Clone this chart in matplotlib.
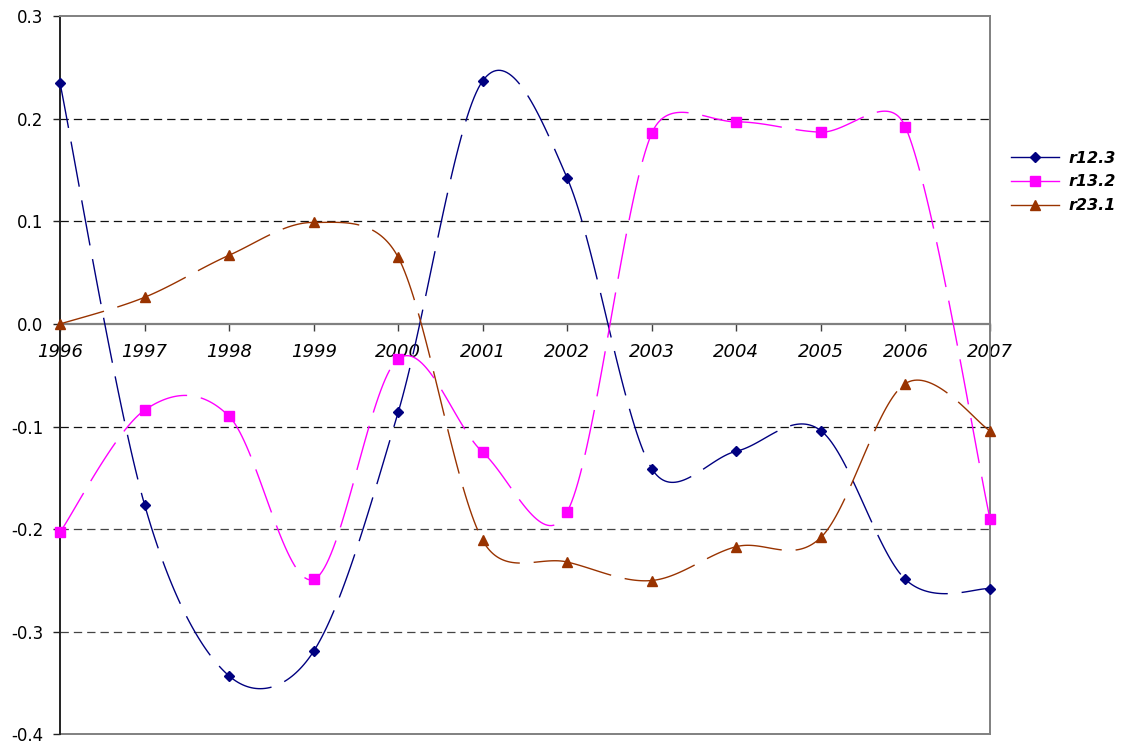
import numpy as np
import matplotlib
matplotlib.use("Agg")
import matplotlib.pyplot as plt
from matplotlib.lines import Line2D

plt.rcParams['font.family'] = ['DejaVu Sans']
plt.rcParams['lines.scale_dashes'] = False

years = [1996, 1997, 1998, 1999, 2000, 2001, 2002, 2003, 2004, 2005, 2006, 2007]
r12_3 = [0.235, -0.176, -0.343, -0.319, -0.086, 0.237, 0.142, -0.141, -0.124, -0.104, -0.249, -0.258]
r13_2 = [-0.203, -0.084, -0.090, -0.249, -0.034, -0.125, -0.183, 0.186, 0.197, 0.187, 0.192, -0.190]
r23_1 = [0.000, 0.026, 0.067, 0.099, 0.065, -0.211, -0.232, -0.250, -0.217, -0.208, -0.058, -0.104]

series_names = ['r12.3', 'r13.2', 'r23.1']
series_values = [r12_3, r13_2, r23_1]
series_colors = ['#000080', '#FF00FF', '#993300']
series_markers = ['D', 's', '^']
series_msizes = [5.0, 6.5, 7.5]

y_ticks = [0.3, 0.2, 0.1, 0.0, -0.1, -0.2, -0.3, -0.4]
grid_levels = [0.2, 0.1, -0.1, -0.2, -0.3]

FIG_W, FIG_H = 1124, 745
AX_L, AX_R, AX_T, AX_B = 60.0, 990.0, 16.2, 734.4


def smooth_segments(x, y, xlim, ylim, n=40):
    """Excel-like smoothed curve: one cubic Bezier per segment, Catmull-Rom arms (1/6),
    computed in pixel units and capped at half the adjacent segment length."""
    sx = (AX_R - AX_L) / (xlim[1] - xlim[0])
    sy = (AX_B - AX_T) / (ylim[1] - ylim[0])
    pts = np.column_stack([np.asarray(x, float) * sx, np.asarray(y, float) * sy])
    k = len(pts)
    ext = np.vstack([pts[:1], pts, pts[-1:]])
    segs = []
    t = np.linspace(0, 1, n)[:, None]
    for i in range(k - 1):
        P0 = pts[i]
        P3 = pts[i + 1]
        L = np.linalg.norm(P3 - P0)
        a0 = (ext[i + 2] - ext[i]) / 6.0
        a1 = (ext[i + 3] - ext[i + 1]) / 6.0
        n0 = np.linalg.norm(a0)
        n1 = np.linalg.norm(a1)
        if n0 > 0.5 * L:
            a0 = a0 * (0.5 * L / n0)
        if n1 > 0.5 * L:
            a1 = a1 * (0.5 * L / n1)
        P1 = P0 + a0
        P2 = P3 - a1
        B = ((1 - t) ** 3) * P0 + 3 * ((1 - t) ** 2) * t * P1 + 3 * (1 - t) * t ** 2 * P2 + t ** 3 * P3
        segs.append((B[:, 0] / sx, B[:, 1] / sy))
    return segs


fig = plt.figure(figsize=(FIG_W / 100, FIG_H / 100), dpi=100)
ax = fig.add_axes([AX_L / FIG_W, 1 - AX_B / FIG_H, (AX_R - AX_L) / FIG_W, (AX_B - AX_T) / FIG_H])

xlim = (years[0], years[-1])
ylim = (-0.4, 0.3)
ax.set_xlim(*xlim)
ax.set_ylim(*ylim)

# gridlines
for g in grid_levels:
    ax.axhline(g, color='#111111' if g > -0.15 else '#444444', lw=0.9, ls=(0, (6, 3.6)), zorder=1)

handles = []
for name, vals, col, mk, ms in zip(series_names, series_values, series_colors, series_markers, series_msizes):
    for sx_, sy_ in smooth_segments(years, vals, xlim, ylim):
        ax.plot(sx_, sy_, color=col, lw=1.0, ls=(0, (33, 10)), zorder=3,
                solid_capstyle='butt', dash_capstyle='butt')
    ax.plot(years, vals, ls='none', marker=mk, ms=ms, color=col, mec=col, zorder=4, clip_on=False)
    handles.append(Line2D([], [], color=col, lw=1.0, marker=mk, ms=ms, mec=col))

# spines
ax.spines['bottom'].set_position(('data', 0))
ax.spines['bottom'].set_color('#808080')
ax.spines['bottom'].set_linewidth(1.6)
ax.spines['bottom'].set_zorder(2)
for s in ['top', 'right']:
    ax.spines[s].set_color('#808080')
    ax.spines[s].set_linewidth(1.4)
ax.spines['left'].set_color('#222222')
ax.spines['left'].set_linewidth(1.4)
ax.axhline(-0.4, color='#808080', lw=1.4, clip_on=False, zorder=2)

ax.set_xticks(years)
ax.set_xticklabels([str(y) for y in years], fontsize=13, style='italic')
ax.tick_params(axis='x', direction='out', length=5, width=1, color='#404040', pad=9)
ax.set_yticks(y_ticks)
ax.set_yticklabels(['%.1f' % v for v in y_ticks], fontsize=12)
ax.tick_params(axis='y', direction='out', length=5, width=1, color='#222222', pad=7)

fig.legend(handles, series_names, loc='center left', bbox_to_anchor=(1011 / FIG_W, 1 - 182 / FIG_H),
           frameon=False, prop={'size': 11.5, 'weight': 'bold', 'style': 'italic'},
           handlelength=3.0, handletextpad=0.6, labelspacing=0.55, borderpad=0, borderaxespad=0)

fig.savefig('out.png', dpi=100)
